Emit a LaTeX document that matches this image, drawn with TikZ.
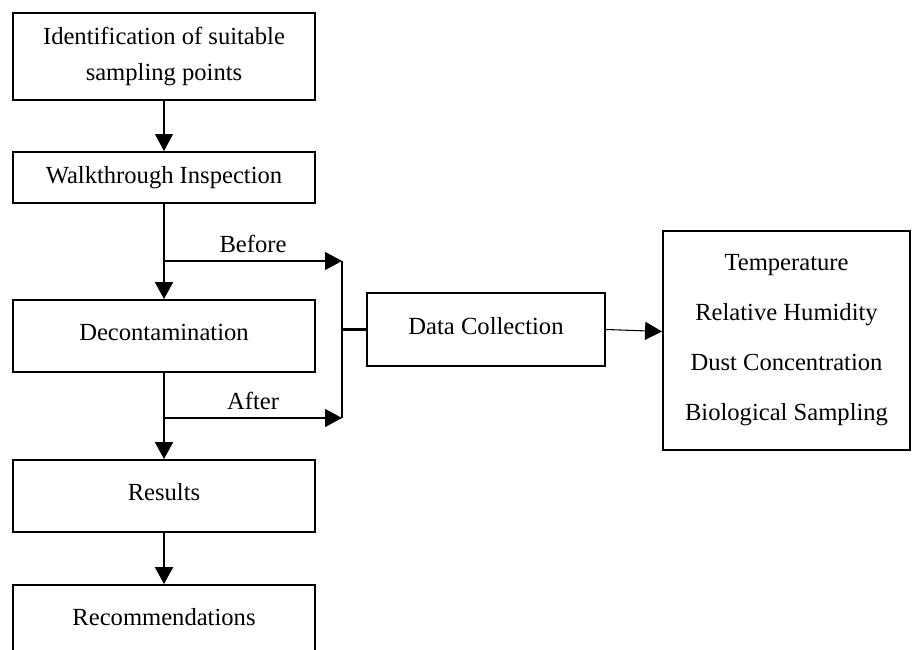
\documentclass[tikz,border=0pt]{standalone}
\usepackage{fontspec}
\setmainfont{Liberation Serif}
\usetikzlibrary{positioning,arrows.meta}

\begin{document}
\begin{tikzpicture}[>={Triangle[length=0.34cm,width=0.36cm]},
  box/.style={draw,line width=1.1pt,minimum width=6.04cm,align=center,
    font=\fontsize{14}{20}\selectfont},
  raised/.style={text depth=0.45em},
  thin/.style={->,line width=0.6pt},
  thick/.style={->,line width=1.2pt},
  lbl/.style={font=\fontsize{14}{17}\selectfont,above=1pt}]
\clip (0,0) rectangle (18.4,-13);
\node[box,minimum height=1.74cm] (ident) at (3.28,-1.13) {Identification of suitable\\sampling points};
\node[box,minimum height=1.02cm] (walk) at (3.28,-3.55) {Walkthrough Inspection};
\node[box,raised,minimum height=1.44cm] (decon) at (3.28,-6.72) {Decontamination};
\node[box,raised,minimum height=1.44cm] (res) at (3.28,-9.92) {Results};
\node[box,raised,minimum height=1.44cm] (recom) at (3.28,-12.42) {Recommendations};
\node[box,raised,minimum width=4.76cm,minimum height=1.46cm] (data) at (9.72,-6.59) {Data Collection};
\node[box,minimum width=4.94cm,minimum height=4.38cm,
  font=\fontsize{14}{28.45}\selectfont] (param) at (15.73,-6.81)
  {Temperature\\Relative Humidity\\Dust Concentration\\Biological Sampling};
% bracket ends
\coordinate (btop) at (6.84,-5.22);
\coordinate (bbot) at (6.84,-8.36);
\draw[thin] (ident) -- (walk);
\draw[thick] (walk) -- (decon);
\draw[thick] (decon) -- (res);
\draw[thick] (res) -- (recom);
\draw[thin] (walk.south |- btop) -- (btop) node[lbl,midway] {Before};
\draw[thin] (decon.south |- bbot) -- (bbot) node[lbl,midway] {After};
\draw[line width=1.2pt] (btop) -- (bbot);
\draw[line width=1.2pt] (data.west) -- (data.west -| btop);
\draw[thin] (data.east) -- ([yshift=-0.04cm]data.east -| param.west);
\end{tikzpicture}
\end{document}
